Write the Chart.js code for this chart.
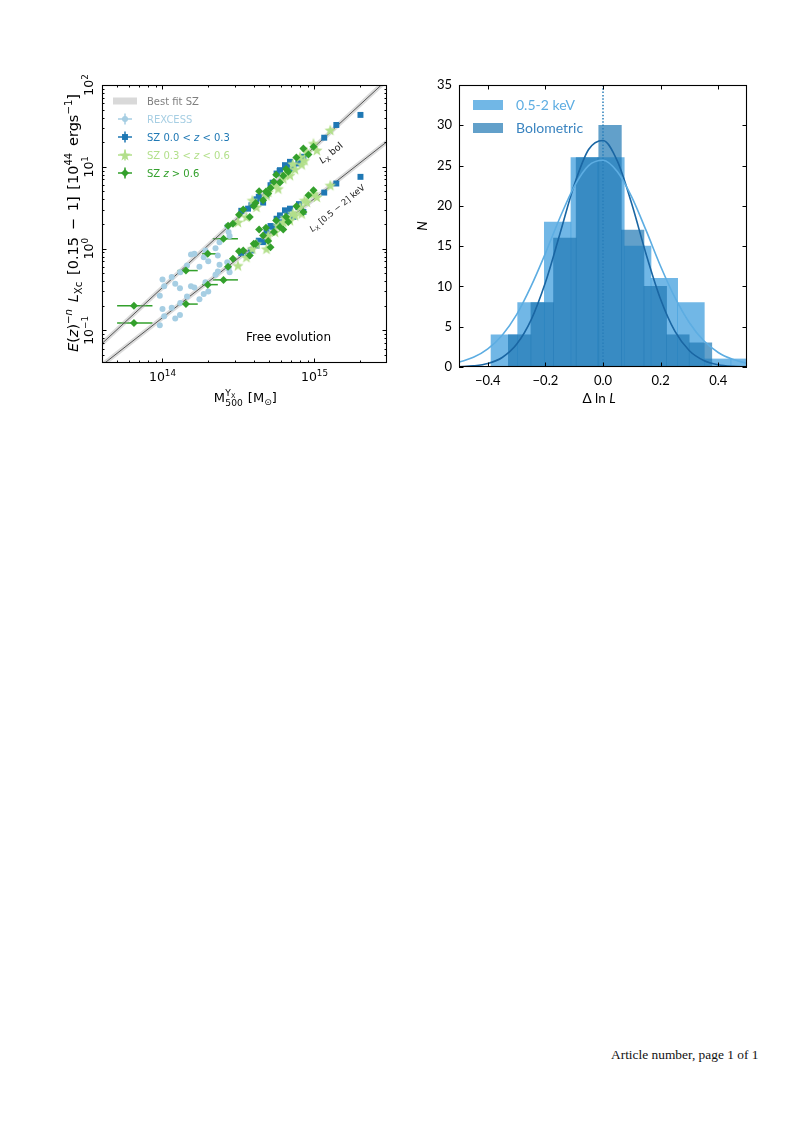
<!DOCTYPE html>
<html><head><meta charset="utf-8">
<script src="https://cdn.jsdelivr.net/npm/chart.js@4.4.0/dist/chart.umd.min.js"></script>
<style>
html,body{margin:0;padding:0;background:#fff;}
body{width:810px;height:1146px;position:relative;overflow:hidden;}
#c1{position:absolute;left:0;top:60px;}
#c2{position:absolute;left:405px;top:60px;}
#foot{position:absolute;left:611px;top:1048px;font-family:'Liberation Serif',serif;font-size:13.4px;line-height:1;color:#111;white-space:nowrap;}
</style></head><body>
<canvas id="c1" width="405" height="360"></canvas>
<canvas id="c2" width="405" height="360"></canvas>
<div id="foot">Article number, page 1 of 1</div>
<script>
// ================= DATA (left panel) =================
const massTickValues = [1e14, 1e15];
const massTickExps = ['14', '15'];
const lumTickValues = [0.1, 1, 10, 100];
const lumTickExps = ['\u22121', '0', '1', '2'];

const fitBolMass = [3.5e13, 3.0e15];
const fitBolLum = [0.055, 116];
const fitSoftMass = [3.5e13, 3.0e15];
const fitSoftLum = [0.031, 20.3];

const rexMass  = [1.00e14, 1.026e14, 0.96e14, 1.309e14, 1.213e14, 1.303e14, 1.54e14, 1.621e14, 1.868e14, 1.917e14, 2.233e14, 2.313e14, 2.373e14, 2.667e14, 2.722e14, 2.764e14, 1.15e14, 1.45e14, 2.0e14, 1.75e14];
const rexLbol  = [0.419, 0.347, 0.266, 0.515, 0.371, 0.327, 0.848, 0.864, 0.787, 0.950, 1.014, 0.824, 1.20, 1.888, 1.594, 1.424, 0.45, 0.62, 0.70, 0.60];
const rexLsoft = [0.183, 0.149, 0.116, 0.216, 0.140, 0.154, 0.347, 0.334, 0.279, 0.388, 0.478, 0.525, 0.634, 0.683, 0.566, 0.515, 0.19, 0.26, 0.30, 0.24];

const szLowMass  = [2.007e15, 1.392e15, 1.159e15, 6.90e14, 6.393e14, 5.925e14, 5.631e14, 7.26e14, 4.834e14, 4.151e14, 3.846e14, 3.656e14, 8.455e14, 7.834e14, 5.138e14, 4.595e14, 5.3e14, 6.6e14, 4.3e14, 7.9e14, 3.3e14, 5.9e14];
const szLowLbol  = [43.1, 32.45, 22.69, 11.51, 10.48, 9.10, 8.28, 9.55, 4.49, 4.01, 3.39, 3.08, 13.27, 10.99, 5.96, 3.65, 6.4, 10.2, 4.3, 11.8, 2.9, 8.9];
const szLowLsoft = [7.54, 6.25, 4.84, 3.08, 2.94, 2.55, 2.32, 2.44, 1.59, 1.09, 0.95, 0.82, 2.81, 3.23, 1.89, 1.20, 1.85, 2.85, 1.25, 3.5, 0.88, 2.1];

const szMidMass  = [1.270e15, 9.849e14, 8.897e14, 8.036e14, 8.243e14, 7.447e14, 6.233e14, 6.900e14, 5.776e14, 4.960e14, 4.834e14, 3.139e14, 4.151e14, 3.564e14, 1.036e15, 5.5e14, 7.2e14, 8.6e14, 6.4e14, 3.9e14];
const szMidLbol  = [28.18, 19.33, 15.28, 13.27, 10.68, 9.36, 7.19, 7.90, 5.42, 4.93, 4.49, 2.11, 3.23, 2.44, 16.02, 6.0, 10.9, 12.0, 8.2, 3.9];
const szMidLsoft = [5.96, 4.71, 3.72, 3.23, 2.68, 2.55, 2.11, 2.22, 1.92, 1.45, 0.995, 0.622, 1.146, 0.786, 4.28, 1.6, 2.7, 3.9, 2.4, 1.0];

const szHighMass   = [0.649e14, 1.427e14, 1.986e14, 2.521e14, 2.908e14, 3.187e14, 3.750e14, 3.985e14, 4.322e14, 4.595e14, 4.960e14, 5.138e14, 5.406e14, 5.925e14, 6.233e14, 6.727e14, 8.455e14, 9.126e14, 9.849e14, 4.1e14, 5.6e14, 6.5e14, 7.6e14, 3.4e14, 2.7e14, 4.8e14];
const szHighLbol   = [0.201, 0.539, 0.864, 1.32, 2.017, 2.601, 2.435, 3.323, 5.027, 3.899, 4.708, 5.525, 6.546, 6.424, 7.755, 8.683, 16.79, 14.17, 17.60, 3.6, 8.0, 9.4, 13.0, 3.0, 1.9, 5.0];
const szHighLsoft  = [0.123, 0.210, 0.363, 0.415, 0.750, 0.932, 0.824, 1.146, 1.719, 1.451, 1.236, 1.043, 1.594, 1.835, 1.719, 2.114, 2.805, 4.492, 5.172, 1.15, 2.2, 2.45, 3.3, 0.95, 0.6, 1.8];
const szHighMassLo = [0.503e14, 1.257e14, 1.821e14, 2.142e14];
const szHighMassHi = [0.859e14, 1.706e14, 2.313e14, 3.137e14];

// ================= DATA (right panel) =================
const softEdges  = [-0.389, -0.296, -0.204, -0.111, -0.019, 0.074, 0.167, 0.259, 0.352, 0.444, 0.537];
const softCounts = [4, 8, 18, 26, 26, 15, 11, 8, 1, 1];
const bolEdges   = [-0.329, -0.250, -0.172, -0.093, -0.015, 0.064, 0.142, 0.221, 0.299, 0.378];
const bolCounts  = [4, 8, 16, 26, 30, 17, 10, 4, 3];
const curveX     = [-0.5, -0.45, -0.4, -0.35, -0.3, -0.25, -0.2, -0.15, -0.1, -0.05, 0, 0.05, 0.1, 0.15, 0.2, 0.25, 0.3, 0.35, 0.4, 0.45, 0.5];
const softCurveY = [0.6, 1.2, 2.25, 3.95, 6.5, 10.0, 14.1, 18.5, 22.4, 25.0, 25.66, 24.23, 21.09, 16.92, 12.51, 8.6, 5.5, 3.25, 1.8, 0.95, 0.45];
const bolCurveY  = [0.04, 0.14, 0.43, 1.18, 2.81, 5.81, 10.48, 16.47, 22.58, 26.99, 28.12, 25.55, 20.23, 13.97, 8.41, 4.41, 2.02, 0.81, 0.28, 0.08, 0.02];
const histXTicks = [-0.4, -0.2, 0, 0.2, 0.4];
const histYTicks = [0, 5, 10, 15, 20, 25, 30, 35];

// ================= STYLE =================
const FAM = 'Lato, "DejaVu Sans", sans-serif';
const FAML = '"DejaVu Sans", sans-serif';
const C_REX = '#a6cee3', C_LOW = '#1f78b4', C_MID = '#b2df8a', C_HIGH = '#33a02c';
const C_SOFTBAR = 'rgba(52,152,219,0.7)', C_BOLBAR = 'rgba(31,119,180,0.7)';

const pts = (xs, ys) => xs.map((v, i) => ({x: v, y: ys[i]}));

function makeStar(color, R) {
  const c = document.createElement('canvas');
  const s = Math.ceil(R * 2 + 2);
  c.width = s; c.height = s;
  const g = c.getContext('2d');
  g.fillStyle = color;
  g.beginPath();
  for (let k = 0; k < 10; k++) {
    const r = k % 2 === 0 ? R : R * 0.42;
    const a = -Math.PI / 2 + k * Math.PI / 5;
    const px = s / 2 + r * Math.cos(a), py = s / 2 + 0.6 + r * Math.sin(a);
    if (k === 0) g.moveTo(px, py); else g.lineTo(px, py);
  }
  g.closePath(); g.fill();
  return c;
}
const starImg = makeStar(C_MID, 6);

function segFont(s, base, fam) {
  const size = s.pos ? base * 0.7 : base;
  return (s.it ? 'italic ' : '') + size + 'px ' + fam;
}
function measureRich(ctx, segs, base, fam) {
  let w = 0;
  for (const s of segs) { ctx.font = segFont(s, base, fam); w += ctx.measureText(s.t).width + (s.gap || 0); }
  return w;
}
function drawRich(ctx, segs, x, y, base, align, fam, target) {
  fam = fam || FAM;
  let w = measureRich(ctx, segs, base, fam);
  let extra = 0;
  const ns = segs.filter(s => s.stretch).length;
  if (target && ns && target > w) { extra = (target - w) / ns; w = target; }
  let cx = align === 'center' ? x - w / 2 : (align === 'right' ? x - w : x);
  ctx.textAlign = 'left';
  ctx.textBaseline = 'alphabetic';
  for (const s of segs) {
    ctx.font = segFont(s, base, fam);
    const dy = s.pos === 'sup' ? -base * 0.40 : (s.pos === 'sub' ? base * 0.25 : 0);
    if (s.color) ctx.fillStyle = s.color;
    ctx.fillText(s.t, cx, y + dy);
    cx += ctx.measureText(s.t).width + (s.gap || 0) + (s.stretch ? extra : 0);
  }
  return w;
}

function logTicks(min, max) {
  const out = [];
  for (let e = Math.floor(Math.log10(min)); e <= Math.ceil(Math.log10(max)); e++) {
    for (let m = 1; m <= 9; m++) {
      const v = m * Math.pow(10, e);
      if (v > min * 1.0001 && v < max * 0.9999) out.push({value: v, major: m === 1});
    }
  }
  return out;
}

function drawFrameAndTicks(chart, majLen, minLen) {
  const {ctx} = chart;
  const a = chart.chartArea;
  const xs = chart.scales.x, ys = chart.scales.y;
  ctx.save();
  ctx.strokeStyle = '#000';
  ctx.lineWidth = 1;
  ctx.beginPath();
  for (const t of xs.ticks) {
    const p = Math.round(xs.getPixelForValue(t.value)) + 0.5;
    const L = t.major ? majLen : minLen;
    ctx.moveTo(p, a.bottom); ctx.lineTo(p, a.bottom - L);
    ctx.moveTo(p, a.top); ctx.lineTo(p, a.top + L);
  }
  for (const t of ys.ticks) {
    const p = Math.round(ys.getPixelForValue(t.value)) + 0.5;
    const L = t.major ? majLen : minLen;
    ctx.moveTo(a.left, p); ctx.lineTo(a.left + L, p);
    ctx.moveTo(a.right, p); ctx.lineTo(a.right - L, p);
  }
  ctx.stroke();
  ctx.lineWidth = 1.1;
  ctx.strokeRect(Math.round(a.left) + 0.5, Math.round(a.top) + 0.5, Math.round(a.right - a.left) - 1, Math.round(a.bottom - a.top) - 1);
  ctx.restore();
}

// ================= LEFT PANEL =================
const leftDecor = {
  id: 'leftDecor',
  beforeDatasetsDraw(chart) {
    const {ctx} = chart; const xs = chart.scales.x, ys = chart.scales.y; const a = chart.chartArea;
    ctx.save();
    ctx.beginPath(); ctx.rect(a.left, a.top, a.right - a.left, a.bottom - a.top); ctx.clip();
    ctx.strokeStyle = C_HIGH; ctx.lineWidth = 1.5;
    for (let i = 0; i < szHighMassLo.length; i++) {
      const x0 = xs.getPixelForValue(szHighMassLo[i]), x1 = xs.getPixelForValue(szHighMassHi[i]);
      for (const L of [szHighLbol[i], szHighLsoft[i]]) {
        const py = ys.getPixelForValue(L);
        ctx.beginPath(); ctx.moveTo(x0, py); ctx.lineTo(x1, py); ctx.stroke();
      }
    }
    ctx.restore();
  },
  afterDraw(chart) {
    const {ctx} = chart; const xs = chart.scales.x, ys = chart.scales.y; const a = chart.chartArea;
    drawFrameAndTicks(chart, 4.5, 2.5);
    ctx.save();
    ctx.fillStyle = '#000';
    // x tick labels
    massTickValues.forEach((v, i) => {
      const p = xs.getPixelForValue(v);
      drawRich(ctx, [{t: '10'}, {t: massTickExps[i], pos: 'sup'}], p, a.bottom + 18, 12.5, 'center', FAML);
    });
    // y tick labels (rotated)
    lumTickValues.forEach((v, i) => {
      const p = ys.getPixelForValue(v);
      ctx.save(); ctx.translate(a.left - 9, p); ctx.rotate(-Math.PI / 2);
      drawRich(ctx, [{t: '10'}, {t: lumTickExps[i], pos: 'sup'}], 0, 0, 12.5, 'center', FAML);
      ctx.restore();
    });
    // x title: M_500^{Y_X} [M_sun]
    {
      const base = 13, F = FAML;
      ctx.font = base + 'px ' + F; const wM = ctx.measureText('M').width;
      ctx.font = (base * 0.7) + 'px ' + F; const wY = ctx.measureText('Y').width; const w500 = ctx.measureText('500').width;
      ctx.font = (base * 0.5) + 'px ' + F; const wX = ctx.measureText('X').width;
      const wStack = Math.max(wY + wX, w500);
      ctx.font = base + 'px ' + F; const wR1 = ctx.measureText(' [M').width;
      ctx.font = (base * 0.7) + 'px ' + F; const wSun = ctx.measureText('\u2299').width;
      ctx.font = base + 'px ' + F; const wR2 = ctx.measureText(']').width;
      const total = wM + wStack + 1 + wR1 + wSun + wR2;
      let cx = 245 - total / 2; const by = a.bottom + 39;
      ctx.textAlign = 'left'; ctx.textBaseline = 'alphabetic';
      ctx.font = base + 'px ' + F; ctx.fillText('M', cx, by); cx += wM + 0.5;
      ctx.font = (base * 0.7) + 'px ' + F; ctx.fillText('Y', cx, by - 6); ctx.fillText('500', cx, by + 3.5);
      ctx.font = (base * 0.5) + 'px ' + F; ctx.fillText('X', cx + wY, by - 4.5);
      cx += wStack + 1;
      ctx.font = base + 'px ' + F; ctx.fillText(' [M', cx, by); cx += wR1;
      ctx.font = (base * 0.7) + 'px ' + F; ctx.fillText('\u2299', cx, by + 3); cx += wSun;
      ctx.font = base + 'px ' + F; ctx.fillText(']', cx, by);
    }
    // y title
    {
      const segs = [{t: 'E', it: 1}, {t: '('}, {t: 'z', it: 1}, {t: ')'}, {t: '\u2212', pos: 'sup'}, {t: 'n', it: 1, pos: 'sup'},
        {t: ' ', stretch: 1}, {t: 'L', it: 1}, {t: 'Xc', pos: 'sub'}, {t: ' ', stretch: 1}, {t: '[0.15'}, {t: ' ', stretch: 1}, {t: '\u2212'}, {t: ' ', stretch: 1}, {t: '1]'}, {t: ' ', stretch: 1},
        {t: '[10'}, {t: '44', pos: 'sup'}, {t: ' ', stretch: 1}, {t: 'ergs'}, {t: '\u22121', pos: 'sup'}, {t: ']'}];
      ctx.save(); ctx.translate(78, 223 - 60); ctx.rotate(-Math.PI / 2);
      drawRich(ctx, segs, 0, 0, 14.5, 'center', FAML, 258);
      ctx.restore();
    }
    // line annotations
    ctx.fillStyle = '#222';
    ctx.save(); ctx.translate(331, 93); ctx.rotate(-40 * Math.PI / 180);
    drawRich(ctx, [{t: 'L', it: 1}, {t: 'X', pos: 'sub'}, {t: ' bol'}], 0, 3, 9.5, 'center', FAML);
    ctx.restore();
    ctx.save(); ctx.translate(337, 148); ctx.rotate(-39.5 * Math.PI / 180);
    drawRich(ctx, [{t: 'L', it: 1}, {t: 'X', pos: 'sub'}, {t: ' [0.5 \u2212 2] keV'}], 0, 3, 8.6, 'center', FAML);
    ctx.restore();
    // Free evolution
    ctx.fillStyle = '#000';
    ctx.font = '12px ' + FAML; ctx.textAlign = 'left'; ctx.textBaseline = 'alphabetic';
    ctx.fillText('Free evolution', 246, 281);
    // legend
    const lx = 125, tx = 147, rows = [41, 59, 77, 95, 113];
    ctx.fillStyle = '#d9d9d9'; ctx.fillRect(113, rows[0] - 3.5, 24, 7);
    ctx.font = '10px ' + FAML; ctx.textBaseline = 'alphabetic';
    ctx.fillStyle = '#7f7f7f'; ctx.fillText('Best fit SZ', tx, rows[0] + 3.6);
    const items = [
      {c: C_REX, st: 'circle', r: 3, segs: [{t: 'REXCESS'}]},
      {c: C_LOW, st: 'rect', r: 4.2, segs: [{t: 'SZ 0.0 < '}, {t: 'z', it: 1}, {t: ' < 0.3'}]},
      {c: C_MID, st: starImg, r: 5, segs: [{t: 'SZ 0.3 < '}, {t: 'z', it: 1}, {t: ' < 0.6'}]},
      {c: C_HIGH, st: 'rectRot', r: 4, segs: [{t: 'SZ '}, {t: 'z', it: 1}, {t: ' > 0.6'}]}
    ];
    items.forEach((it, k) => {
      const y = rows[k + 1];
      ctx.strokeStyle = it.c; ctx.lineWidth = 1.5;
      ctx.beginPath(); ctx.moveTo(lx - 7, y); ctx.lineTo(lx + 7, y); ctx.moveTo(lx, y - 5.5); ctx.lineTo(lx, y + 5.5); ctx.stroke();
      ctx.fillStyle = it.c;
      Chart.helpers.drawPoint(ctx, {pointStyle: it.st, radius: it.r, rotation: 0, borderWidth: 0}, lx, y);
      ctx.fillStyle = it.c;
      drawRich(ctx, it.segs, tx, y + 3.6, 10, 'left', FAML);
    });
    ctx.restore();
  }
};

new Chart(document.getElementById('c1'), {
  type: 'scatter',
  data: {
    datasets: [
      {data: pts(fitBolMass, fitBolLum), showLine: true, borderColor: 'rgba(165,165,165,0.4)', borderWidth: 4.5, pointRadius: 0, clip: 0, order: 9},
      {data: pts(fitBolMass, fitBolLum), showLine: true, borderColor: '#555', borderWidth: 1, pointRadius: 0, clip: 0, order: 8},
      {data: pts(fitSoftMass, fitSoftLum), showLine: true, borderColor: 'rgba(165,165,165,0.4)', borderWidth: 4.5, pointRadius: 0, clip: 0, order: 7},
      {data: pts(fitSoftMass, fitSoftLum), showLine: true, borderColor: '#555', borderWidth: 1, pointRadius: 0, clip: 0, order: 6},
      {label: 'REXCESS', data: pts(rexMass, rexLbol).concat(pts(rexMass, rexLsoft)), pointStyle: 'circle', pointRadius: 3, pointBackgroundColor: C_REX, pointBorderWidth: 0, order: 4},
      {label: 'SZ 0.0<z<0.3', data: pts(szLowMass, szLowLbol).concat(pts(szLowMass, szLowLsoft)), pointStyle: 'rect', pointRadius: 4.2, pointBackgroundColor: C_LOW, pointBorderWidth: 0, order: 3},
      {label: 'SZ 0.3<z<0.6', data: pts(szMidMass, szMidLbol).concat(pts(szMidMass, szMidLsoft)), pointStyle: starImg, pointRadius: 5, pointBackgroundColor: C_MID, pointBorderWidth: 0, order: 2},
      {label: 'SZ z>0.6', data: pts(szHighMass, szHighLbol).concat(pts(szHighMass, szHighLsoft)), pointStyle: 'rectRot', pointRadius: 4, pointBackgroundColor: C_HIGH, pointBorderWidth: 0, order: 1}
    ]
  },
  options: {
    responsive: false, animation: false, events: [],
    layout: {padding: {left: 0, right: 18, top: 25, bottom: 0}},
    plugins: {legend: {display: false}, tooltip: {enabled: false}},
    scales: {
      x: {type: 'logarithmic', min: 4e13, max: 3e15,
          afterBuildTicks(s) { s.ticks = logTicks(4e13, 3e15); },
          ticks: {display: false}, grid: {display: false, drawTicks: false}, border: {display: false},
          afterFit(s) { s.height = 57; }},
      y: {type: 'logarithmic', min: 0.04, max: 100,
          afterBuildTicks(s) { s.ticks = logTicks(0.04, 100); },
          ticks: {display: false}, grid: {display: false, drawTicks: false}, border: {display: false},
          afterFit(s) { s.width = 102; }}
    }
  },
  plugins: [leftDecor]
});

// ================= RIGHT PANEL =================
const centers = e => e.slice(0, -1).map((v, i) => (v + e[i + 1]) / 2);
const rightDecor = {
  id: 'rightDecor',
  afterDraw(chart) {
    const {ctx} = chart; const xs = chart.scales.x, ys = chart.scales.y; const a = chart.chartArea;
    drawFrameAndTicks(chart, 4.5, 4.5);
    ctx.save();
    ctx.fillStyle = '#000';
    ctx.font = '13px ' + FAM;
    ctx.textAlign = 'center'; ctx.textBaseline = 'alphabetic';
    histXTicks.forEach(v => {
      const s = v.toFixed(1).replace('-', '\u2212');
      ctx.fillText(s, xs.getPixelForValue(v), a.bottom + 18);
    });
    ctx.textAlign = 'right'; ctx.textBaseline = 'middle';
    histYTicks.forEach(v => ctx.fillText(String(v), a.left - 7, ys.getPixelForValue(v)));
    // titles
    ctx.textBaseline = 'alphabetic';
    drawRich(ctx, [{t: '\u0394 ln '}, {t: 'L', it: 1}], (a.left + a.right) / 2 - 4, a.bottom + 36, 13.5, 'center');
    ctx.save(); ctx.translate(22, (a.top + a.bottom) / 2); ctx.rotate(-Math.PI / 2);
    drawRich(ctx, [{t: 'N', it: 1}], 0, 0, 13.5, 'center');
    ctx.restore();
    // legend
    ctx.fillStyle = C_SOFTBAR; ctx.fillRect(68, 40, 30, 10);
    ctx.fillStyle = C_BOLBAR; ctx.fillRect(68, 63, 30, 10);
    ctx.font = '14px ' + FAM; ctx.textAlign = 'left'; ctx.textBaseline = 'middle';
    ctx.fillStyle = '#5dade2'; ctx.fillText('0.5-2 keV', 111, 45.5);
    ctx.fillStyle = '#3a84c0'; ctx.fillText('Bolometric', 111, 68.5);
    ctx.restore();
  }
};

new Chart(document.getElementById('c2'), {
  type: 'bar',
  data: {
    datasets: [
      {type: 'line', data: [{x: 0, y: 0}, {x: 0, y: 35}], borderColor: '#2a7fba', borderWidth: 1.5, borderDash: [1.5, 1.8], pointRadius: 0, order: 0, xAxisID: 'x'},
      {type: 'line', data: pts(curveX, softCurveY), borderColor: '#5dade2', borderWidth: 1.6, pointRadius: 0, cubicInterpolationMode: 'monotone', order: 1, xAxisID: 'x'},
      {type: 'line', data: pts(curveX, bolCurveY), borderColor: '#1a66a3', borderWidth: 1.6, pointRadius: 0, cubicInterpolationMode: 'monotone', order: 2, xAxisID: 'x'},
      {type: 'bar', data: pts(centers(bolEdges), bolCounts), backgroundColor: C_BOLBAR, borderWidth: 0, barPercentage: 1, categoryPercentage: 1, grouped: false, order: 3, xAxisID: 'x2'},
      {type: 'bar', data: pts(centers(softEdges), softCounts), backgroundColor: C_SOFTBAR, borderWidth: 0, barPercentage: 1, categoryPercentage: 1, grouped: false, order: 4, xAxisID: 'x'}
    ]
  },
  options: {
    responsive: false, animation: false, events: [],
    layout: {padding: {left: 0, right: 63, top: 25, bottom: 0}},
    plugins: {legend: {display: false}, tooltip: {enabled: false}},
    scales: {
      x: {type: 'linear', min: -0.5, max: 0.5, offset: false,
          afterBuildTicks(s) { s.ticks = histXTicks.map(v => ({value: v, major: true})); },
          ticks: {display: false}, grid: {display: false, drawTicks: false}, border: {display: false},
          afterFit(s) { s.height = 53; }},
      x2: {type: 'linear', min: -0.5, max: 0.5, offset: false, display: false},
      y: {type: 'linear', min: 0, max: 35,
          afterBuildTicks(s) { s.ticks = histYTicks.map(v => ({value: v, major: true})); },
          ticks: {display: false}, grid: {display: false, drawTicks: false}, border: {display: false},
          afterFit(s) { s.width = 54; }}
    }
  },
  plugins: [rightDecor]
});
</script>
</body></html>
